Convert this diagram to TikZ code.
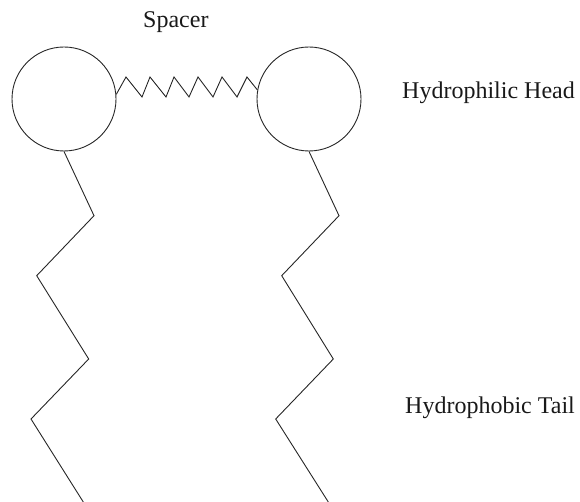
\documentclass[tikz,border=0pt]{standalone}
\usepackage{fontspec}
\setmainfont{Liberation Serif}
\begin{document}
\begin{tikzpicture}[x=1pt,y=-1pt,
  bond/.style={draw=black!85, line width=0.9pt, line join=miter},
  head/.style={circle, draw=black!85, line width=0.9pt, minimum size=104pt, inner sep=0pt},
  lbl/.style={anchor=base west, inner sep=0pt, font=\fontsize{24}{28}\selectfont, text=black!90}]
\useasboundingbox (0,0) rectangle (580,502);
% heads
\node[head] (headL) at (64,99) {};
\node[head] (headR) at (309,99) {};
% spacer spring
\draw[bond] (headL.5) -- (126,77) -- (142,97) -- (150,77) -- (166,97) -- (174,77)
  -- (189,97) -- (198,77) -- (213,97) -- (222,77) -- (237,97) -- (247,77) -- (headR.170);
% tails
\coordinate (tailL) at (83.3,502);
\coordinate (tailR) at (328.3,502);
\draw[bond] (headL.south) -- (94,215.7) -- (36.7,275.7) -- (88.7,359) -- (31,419) -- (tailL);
\draw[bond] (headR.south) -- (339,215.7) -- (281.7,275.7) -- (333.3,359) -- (275.7,419) -- (tailR);
% labels
\node[lbl] (spacer) at (143,28) {Spacer};
\node[lbl] (hhead) at (402,99) {Hydrophilic Head};
\node[lbl] (htail) at (405,413) {Hydrophobic Tail};
\end{tikzpicture}
\end{document}
